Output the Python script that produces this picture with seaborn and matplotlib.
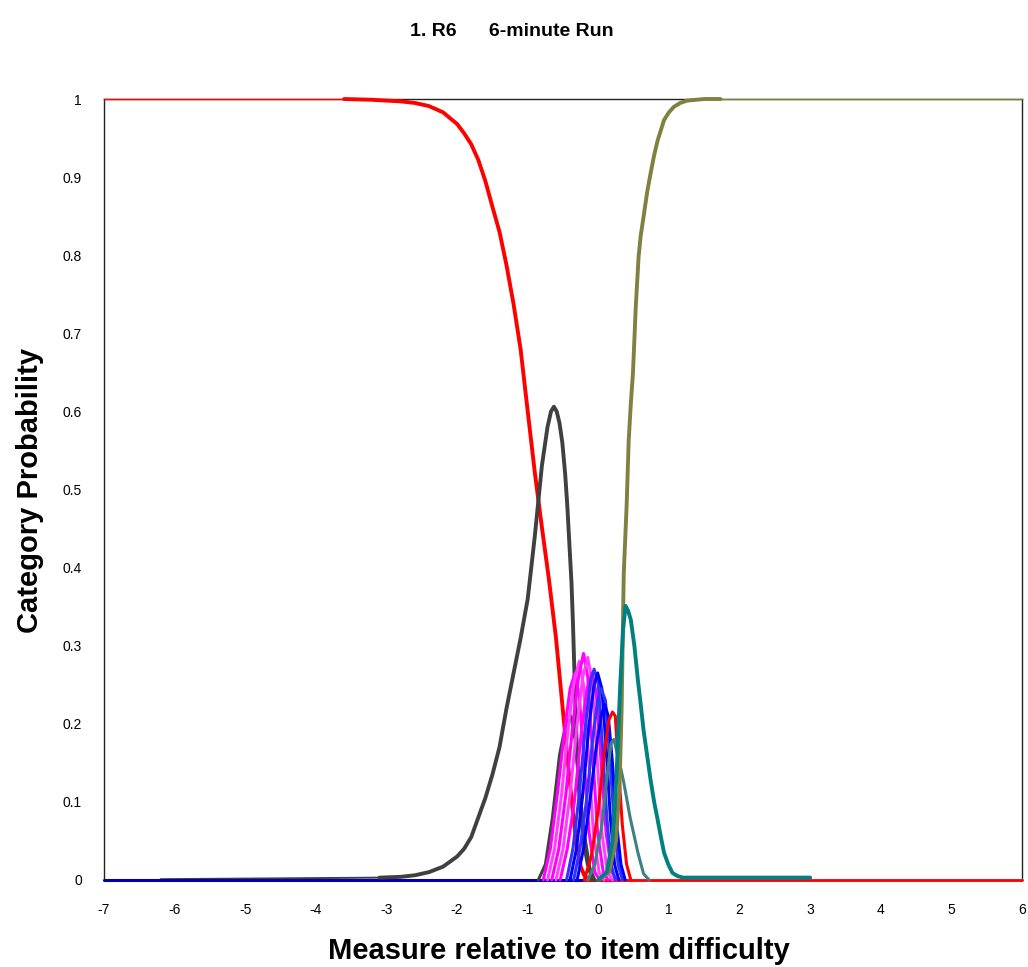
import matplotlib
matplotlib.use("Agg")
import matplotlib.pyplot as plt
import seaborn as sns
import pandas as pd

# ---------------- data ----------------
x_ticks = [-7, -6, -5, -4, -3, -2, -1, 0, 1, 2, 3, 4, 5, 6]
y_ticks = [0, 0.1, 0.2, 0.3, 0.4, 0.5, 0.6, 0.7, 0.8, 0.9, 1.0]
y_tick_labels = ["0", "0.1", "0.2", "0.3", "0.4", "0.5", "0.6", "0.7", "0.8", "0.9", "1"]

# category 0 (red, falling)
red0_x = [-3.6, -3.2, -3.0, -2.8, -2.6, -2.4, -2.2, -2.0, -1.9, -1.8, -1.7, -1.6, -1.5,
          -1.4, -1.3, -1.2, -1.1, -1.0, -0.9, -0.8, -0.7, -0.6, -0.5, -0.42, -0.35, -0.3,
          -0.25, -0.2, -0.12]
red0_y = [1.0, 0.999, 0.998, 0.997, 0.995, 0.991, 0.983, 0.968, 0.956, 0.942, 0.922, 0.895,
          0.862, 0.830, 0.787, 0.737, 0.679, 0.600, 0.522, 0.452, 0.385, 0.310, 0.215, 0.140,
          0.078, 0.040, 0.017, 0.006, 0.0]
red0_tail_x = [-7.0, -3.6]
red0_tail_y = [1.0, 1.0]

# category 1 (dark grey, big peak)
gray1_x = [-3.1, -2.8, -2.6, -2.4, -2.2, -2.0, -1.9, -1.8, -1.7, -1.6, -1.5, -1.4, -1.3,
           -1.2, -1.1, -1.0, -0.9, -0.8, -0.72, -0.67, -0.63, -0.59, -0.55, -0.51, -0.47,
           -0.44, -0.41, -0.38, -0.36, -0.34, -0.32, -0.30, -0.27, -0.24, -0.2, -0.15, -0.08]
gray1_y = [0.003, 0.004, 0.006, 0.010, 0.017, 0.030, 0.040, 0.055, 0.080, 0.105, 0.135, 0.17,
           0.22, 0.265, 0.31, 0.36, 0.44, 0.53, 0.58, 0.60, 0.606, 0.60, 0.585, 0.56, 0.52,
           0.48, 0.43, 0.38, 0.33, 0.27, 0.21, 0.16, 0.11, 0.075, 0.045, 0.02, 0.0]
gray1_tail_x = [-6.2, -3.1]
gray1_tail_y = [0.001, 0.003]

# small dark grey peak
gray2_x = [-0.85, -0.75, -0.65, -0.55, -0.46, -0.39, -0.33, -0.27, -0.20, -0.12, -0.05]
gray2_y = [0.0, 0.02, 0.08, 0.16, 0.20, 0.21, 0.18, 0.12, 0.06, 0.015, 0.0]

# magenta peaks
mag1_x = [-0.78, -0.68, -0.58, -0.48, -0.40, -0.33, -0.27, -0.20, -0.13, -0.05, 0.02]
mag1_y = [0.0, 0.04, 0.11, 0.19, 0.245, 0.265, 0.235, 0.15, 0.06, 0.01, 0.0]
mag2_x = [-0.72, -0.62, -0.52, -0.42, -0.34, -0.27, -0.21, -0.14, -0.07, 0.01, 0.08]
mag2_y = [0.0, 0.04, 0.11, 0.20, 0.255, 0.28, 0.25, 0.16, 0.06, 0.01, 0.0]
mag3_x = [-0.66, -0.56, -0.46, -0.36, -0.28, -0.21, -0.15, -0.08, -0.01, 0.07, 0.14]
mag3_y = [0.0, 0.04, 0.11, 0.20, 0.26, 0.29, 0.26, 0.16, 0.06, 0.01, 0.0]
mag4_x = [-0.60, -0.50, -0.40, -0.30, -0.22, -0.15, -0.09, -0.02, 0.05, 0.13, 0.20]
mag4_y = [0.0, 0.04, 0.11, 0.20, 0.26, 0.285, 0.255, 0.16, 0.06, 0.01, 0.0]
mag5_x = [-0.54, -0.44, -0.34, -0.24, -0.16, -0.09, -0.03, 0.04, 0.11, 0.19, 0.26]
mag5_y = [0.0, 0.04, 0.10, 0.19, 0.245, 0.265, 0.24, 0.15, 0.06, 0.01, 0.0]

# blue peaks
blue1_x = [-0.45, -0.36, -0.27, -0.18, -0.11, -0.06, 0.0, 0.06, 0.12, 0.18, 0.24]
blue1_y = [0.0, 0.04, 0.11, 0.20, 0.255, 0.27, 0.25, 0.17, 0.08, 0.02, 0.0]
blue2_x = [-0.40, -0.31, -0.22, -0.13, -0.06, -0.01, 0.05, 0.11, 0.17, 0.23, 0.29]
blue2_y = [0.0, 0.04, 0.11, 0.20, 0.25, 0.265, 0.245, 0.17, 0.08, 0.02, 0.0]
blue3_x = [-0.35, -0.26, -0.17, -0.08, -0.01, 0.04, 0.10, 0.16, 0.22, 0.28, 0.34]
blue3_y = [0.0, 0.04, 0.10, 0.18, 0.23, 0.245, 0.23, 0.16, 0.08, 0.02, 0.0]
blue4_x = [-0.30, -0.21, -0.12, -0.03, 0.04, 0.09, 0.14, 0.20, 0.26, 0.32, 0.38]
blue4_y = [0.0, 0.04, 0.10, 0.17, 0.21, 0.225, 0.21, 0.15, 0.07, 0.02, 0.0]

# small red peak
red2_x = [-0.20, -0.10, 0.0, 0.08, 0.15, 0.20, 0.24, 0.29, 0.34, 0.40, 0.46]
red2_y = [0.0, 0.03, 0.09, 0.16, 0.205, 0.215, 0.21, 0.137, 0.07, 0.02, 0.0]

# slate-teal peak
slate_x = [-0.15, -0.05, 0.05, 0.12, 0.18, 0.22, 0.30, 0.36, 0.45, 0.56, 0.64, 0.72]
slate_y = [0.0, 0.02, 0.07, 0.13, 0.175, 0.18, 0.15, 0.125, 0.08, 0.035, 0.008, 0.0]

# teal (second-highest category)
teal_x = [0.0, 0.12, 0.20, 0.26, 0.31, 0.35, 0.385, 0.42, 0.46, 0.51, 0.56, 0.60, 0.64,
          0.69, 0.74, 0.79, 0.84, 0.89, 0.93, 0.99, 1.05, 1.12, 1.2, 3.0]
teal_y = [0.0, 0.01, 0.05, 0.14, 0.25, 0.32, 0.351, 0.345, 0.333, 0.30, 0.256, 0.225, 0.192,
          0.16, 0.128, 0.10, 0.077, 0.053, 0.035, 0.02, 0.009, 0.005, 0.003, 0.003]

# olive (top category, rising)
olive_x = [0.0, 0.15, 0.25, 0.30, 0.33, 0.36, 0.40, 0.43, 0.46, 0.49, 0.53, 0.57, 0.60,
           0.64, 0.69, 0.74, 0.79, 0.84, 0.93, 1.0, 1.07, 1.16, 1.26, 1.5, 1.73]
olive_y = [0.0, 0.01, 0.05, 0.12, 0.22, 0.393, 0.478, 0.563, 0.61, 0.649, 0.734, 0.798,
           0.825, 0.849, 0.880, 0.905, 0.928, 0.947, 0.973, 0.983, 0.99, 0.995, 0.998, 1.0, 1.0]
olive_tail_x = [1.73, 6.0]
olive_tail_y = [1.0, 1.0]

# baseline segments at zero
blue_base_x = [-7.0, 0.2]
blue_base_y = [0.0, 0.0]
red_base_x = [-0.2, 6.0]
red_base_y = [0.0, 0.0]

# ---------------- drawing ----------------
sns.set_style("white")
plt.rcParams["font.family"] = ["Liberation Sans", "DejaVu Sans"]
plt.rcParams["text.color"] = "black"
plt.rcParams["axes.labelcolor"] = "black"
plt.rcParams["xtick.color"] = "black"
plt.rcParams["ytick.color"] = "black"

fig = plt.figure(figsize=(10.28, 9.67), dpi=100)
ax = fig.add_axes([0.1012, 0.09, 0.893, 0.8076])

series = [
    (gray1_tail_x, gray1_tail_y, "#404040", 1.4),
    (blue_base_x, blue_base_y, "#0000b0", 2.2),
    (red_base_x, red_base_y, "#ff0000", 2.0),
    (red0_tail_x, red0_tail_y, "#ff0000", 1.0),
    (olive_tail_x, olive_tail_y, "#808040", 1.0),
    (red0_x, red0_y, "#ff0000", 2.8),
    (gray1_x, gray1_y, "#404040", 2.8),
    (gray2_x, gray2_y, "#404040", 2.2),
    (mag1_x, mag1_y, "#ff00ff", 2.2),
    (mag2_x, mag2_y, "#ff40ff", 2.2),
    (mag3_x, mag3_y, "#ff00ff", 2.2),
    (mag4_x, mag4_y, "#ff40ff", 2.2),
    (mag5_x, mag5_y, "#ff00ff", 2.2),
    (blue1_x, blue1_y, "#3333ff", 2.2),
    (blue2_x, blue2_y, "#0000ff", 2.2),
    (blue3_x, blue3_y, "#3333ff", 2.2),
    (blue4_x, blue4_y, "#0000ff", 2.2),
    (red2_x, red2_y, "#ff0000", 2.2),
    (slate_x, slate_y, "#408080", 2.2),
    (olive_x, olive_y, "#808040", 2.8),
    (teal_x, teal_y, "#008080", 2.8),
]

for i, (xs, ys, col, lw) in enumerate(series):
    df = pd.DataFrame({"x": xs, "y": ys})
    sns.lineplot(data=df, x="x", y="y", ax=ax, color=col, lw=lw,
                 sort=False, estimator=None, zorder=3 + i * 0.01, clip_on=False)

ax.set_xlim(-7, 6)
ax.set_ylim(0, 1)
ax.set_xticks(x_ticks)
ax.set_xticklabels([str(v) for v in x_ticks])
ax.set_yticks(y_ticks)
ax.set_yticklabels(y_tick_labels)
ax.tick_params(axis="x", direction="inout", length=9, width=1, labelsize=10, pad=12, colors="black")
ax.tick_params(axis="y", direction="out", length=5, width=1, labelsize=10, pad=11, colors="black")
ax.set_xlabel("")
ax.set_ylabel("")
for side in ["left", "bottom", "top", "right"]:
    ax.spines[side].set_visible(True)
    ax.spines[side].set_color("#222222")
    ax.spines[side].set_linewidth(1.0)
    ax.spines[side].set_zorder(2.5)
ax.grid(False)

fig.text(0.498, 0.967, "1. R6      6-minute Run", ha="center", va="center",
         fontsize=14, fontweight="bold")
fig.text(0.544, 0.017, "Measure relative to item difficulty", ha="center", va="center",
         fontsize=21, fontweight="bold")
fig.text(0.029, 0.493, "Category Probability", ha="center", va="center",
         rotation=90, fontsize=21, fontweight="bold")

fig.savefig("out.png", dpi=100)
